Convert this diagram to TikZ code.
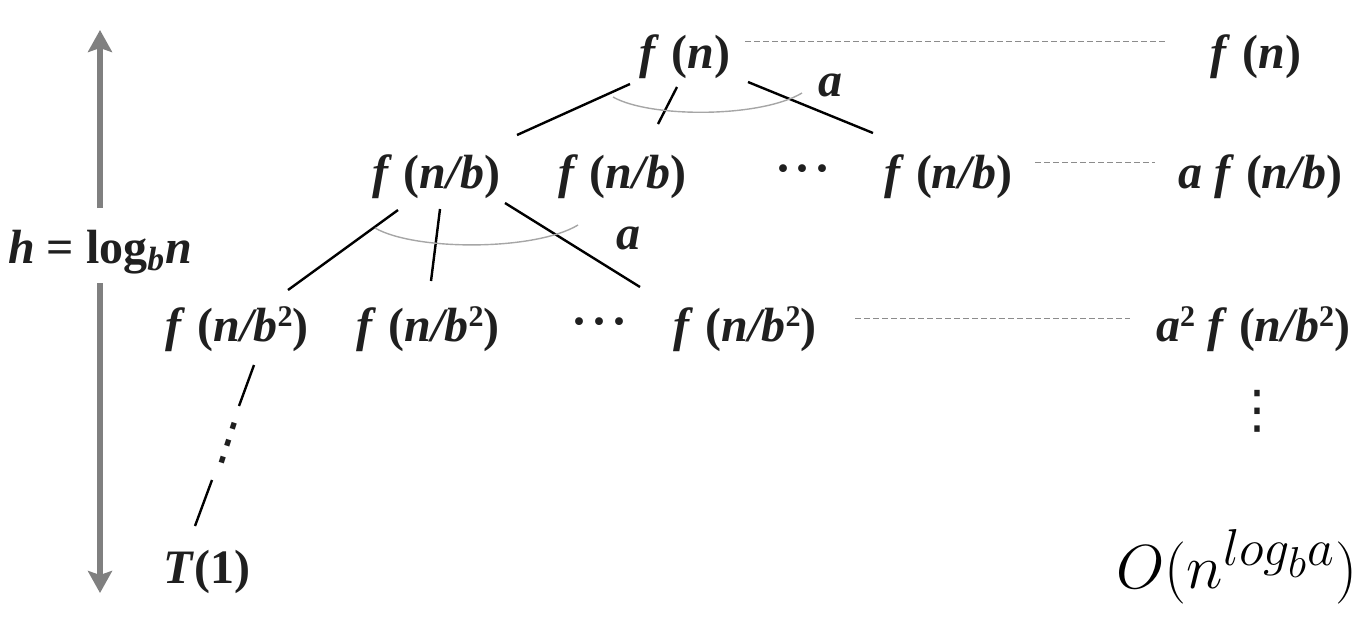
\documentclass[tikz,border=0pt]{standalone}
\usepackage[no-math]{fontspec}
\setmainfont{Liberation Serif}
\newfontfamily\dotfont{DejaVu Sans}
\usepackage{tikz}
\usetikzlibrary{arrows.meta}

\newcommand{\bi}[1]{\textbf{\textit{#1}}}
\newcommand{\fterm}[1]{\bi{f}~\textbf{(}#1\textbf{)}}
\newcommand{\sqb}{\raisebox{0.3em}{\fontsize{15}{15}\selectfont\textbf{2}}}
\newcommand{\vdotz}{{\dotfont\fontsize{26}{30}\selectfont ⋮}}
\newcommand{\hdotz}{\textbf{·\kern2pt·\kern2pt·}}

\begin{document}
\begin{tikzpicture}[x=0.5pt, y=-0.5pt,
    term/.style={anchor=base, inner sep=0pt, text=black!88, font=\fontsize{24}{28}\selectfont},
    branch/.style={line width=1.2pt},
    fan/.style={draw=black!35, line width=0.7pt},
    level/.style={draw=black!45, line width=0.5pt, dash pattern=on 3pt off 1.5pt},
    harrow/.style={draw=black!50, line width=3pt, -{Stealth[length=11pt, width=12pt, inset=2pt]}}]
    \useasboundingbox (0,0) rectangle (1363,623);

    \node (root) [term] at (685,68) {\fterm{\bi{n}}};
    \node (la) [term] at (436,188) {\fterm{\bi{n/b}}};
    \node (lb) [term] at (622,188) {\fterm{\bi{n/b}}};
    \node (lc) [term] at (803,184) {\hdotz};
    \node (ld) [term] at (948,188) {\fterm{\bi{n/b}}};
    \node (ma) [term] at (237,341) {\fterm{\bi{n/b}\sqb}};
    \node (mb) [term] at (428,341) {\fterm{\bi{n/b}\sqb}};
    \node (mc) [term] at (600,337) {\hdotz};
    \node (md) [term] at (745,341) {\fterm{\bi{n/b}\sqb}};
    \node (vd) [term, anchor=center, rotate=-18] at (228,443) {\vdotz};
    \node (t1) [term] at (207,583) {\bi{T}\textbf{(1)}};
    \node (ka) [term] at (830,96) {\bi{a}};
    \node (kb) [term] at (628,249) {\bi{a}};

    \node (r0) [term] at (1256,68) {\fterm{\bi{n}}};
    \node (r1) [term] at (1260,188) {\bi{a} \fterm{\bi{n/b}}};
    \node (r2) [term] at (1253,341) {\bi{a}\sqb\ \fterm{\bi{n/b}\sqb}};
    \node (rv) [term, anchor=center] at (1257,411) {\vdotz};
    \node (r3) [term, text=black, font=\fontsize{24.88}{30}\selectfont] at (1237,588) {\scalebox{1.25}{$O(n^{log_b a})$}};

    \node (h) [term] at (100,263) {\bi{h} \textbf{= log}\textsubscript{\bi{b}}\bi{n}};
    \coordinate (htop) at (100,30);
    \coordinate (hbot) at (100,593);
    \draw[harrow] ([shift={(0,-55)}]h.base) -- (htop);
    \draw[harrow] ([shift={(0,20)}]h.base) -- (hbot);

    \draw[branch] ([shift={(-55,16)}]root.base) -- ([shift={(81,-53)}]la.base);
    \draw[branch] ([shift={(-8,19)}]root.base) -- ([shift={(36,-64)}]lb.base);
    \draw[branch] ([shift={(63,14)}]root.base) -- ([shift={(-75,-55)}]ld.base);
    \draw[fan] ([shift={(-72,29)}]root.base) .. controls +(37,21) and +(-42,25) .. ([shift={(117,25)}]root.base);

    \draw[branch] ([shift={(-38,22)}]la.base) -- ([shift={(51,-51)}]ma.base);
    \draw[branch] ([shift={(4,21)}]la.base) -- ([shift={(3,-60)}]mb.base);
    \draw[branch] ([shift={(69,15)}]la.base) -- ([shift={(-105,-54)}]md.base);
    \draw[fan] ([shift={(-61,40)}]la.base) .. controls +(40,23) and +(-43,26) .. ([shift={(142,37)}]la.base);

    \draw[branch] ([shift={(17,24)}]ma.base) -- ([shift={(11,-37)}]vd.center);
    \draw[branch] ([shift={(-16,37)}]vd.center) -- ([shift={(-12,-57)}]t1.base);

    \draw[level] ([shift={(60,-27)}]root.base) -- ([shift={(-88,-27)}]r0.base);
    \draw[level] ([shift={(87,-26)}]ld.base) -- ([shift={(-105,-26)}]r1.base);
    \draw[level] ([shift={(110,-23)}]md.base) -- ([shift={(-123,-23)}]r2.base);
\end{tikzpicture}
\end{document}
